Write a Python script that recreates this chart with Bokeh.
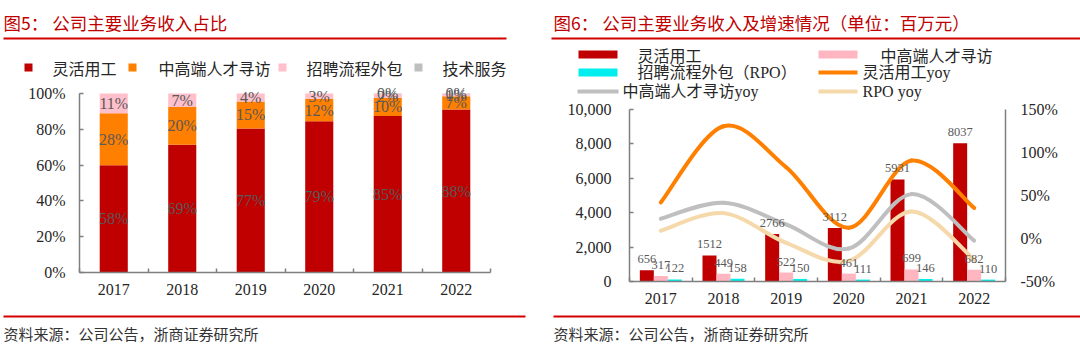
import numpy as np
from bokeh.plotting import figure
from bokeh.models import (ColumnDataSource, Range1d, LinearAxis, FixedTicker,
                          NumeralTickFormatter, PrintfTickFormatter)
from bokeh.layouts import row
from bokeh.embed import file_html
from bokeh.resources import INLINE
from bokeh.core.properties import value

# ---------------- data ----------------
years = ["2017", "2018", "2019", "2020", "2021", "2022"]

# Fig.5 revenue shares (%), bar heights
share_flex = [59.9, 71.4, 80.4, 84.5, 87.5, 91.0]
share_mid = [29.0, 21.1, 15.2, 12.5, 10.0, 7.5]
share_rpo = [11.1, 7.5, 4.4, 3.0, 2.2, 1.2]
share_tech = [0.0, 0.0, 0.0, 0.0, 0.3, 0.3]
# Fig.5 data labels as printed
label_flex = ["58%", "69%", "77%", "79%", "85%", "88%"]
label_mid = ["28%", "20%", "15%", "12%", "10%", "7%"]
label_rpo = ["11%", "7%", "4%", "3%", "2%", "1%"]
label_tech = ["", "", "", "", "0%", "0%"]

# Fig.6 revenue (million yuan)
rev_flex = [656, 1512, 2766, 3112, 5931, 8037]
rev_mid = [317, 449, 522, 461, 699, 682]
rev_rpo = [122, 158, 150, 111, 146, 110]
# Fig.6 growth yoy (%)
yoy_flex = [42.0, 130.5, 82.9, 12.5, 90.6, 35.5]
yoy_mid = [23.0, 41.6, 16.3, -11.7, 51.6, -2.4]
yoy_rpo = [9.0, 29.5, -5.1, -26.0, 31.5, -24.7]

pct_ticks = [0, 20, 40, 60, 80, 100]
rev_ticks = [0, 2000, 4000, 6000, 8000, 10000]
yoy_ticks = [-50, 0, 50, 100, 150]

# ---------------- style ----------------
SERIF = "Liberation Serif"
CJK = "Noto Sans CJK SC"
MIX = "Liberation Serif, Noto Sans CJK SC"
AXIS_C = "#7f7f7f"
TXT = "#262626"
LBL = "#595959"
TITLE_C = "#C00000"
RULE_C = "#D40000"
RED = "#C00000"
ORANGE = "#FF7F00"
PINK5 = "#FFC0CB"
GRAY = "#BFBFBF"
PINK6 = "#FFB6C1"
CYAN = "#00EEEE"
WHEAT = "#F5D9AA"

W, H = 540, 359
n = len(years)
xs = np.arange(n) + 0.5
bounds = [float(b) for b in range(n + 1)]
overrides = {float(x): y for x, y in zip(xs, years)}


def make_panel(off, ax0, ax6, ylo_px, yhi_px, ylo, yhi):
    """Figure whose frame is the whole canvas; axes sit at fixed locations."""
    ux = (ax6 - ax0) / float(n)
    uy = (ylo_px - yhi_px) / float(yhi - ylo)
    x0 = ax0 - off
    xr = Range1d(-x0 / ux, (W - x0) / ux)
    yr = Range1d(ylo - (H - ylo_px) / uy, ylo + ylo_px / uy)
    p = figure(width=W, height=H, x_range=xr, y_range=yr, output_backend="svg",
               toolbar_location=None, min_border=0, min_border_left=0, min_border_right=0,
               min_border_top=0, min_border_bottom=0)
    p.grid.visible = False
    p.outline_line_color = None
    p.background_fill_color = "white"
    p.border_fill_color = "white"

    def fx(X):
        return (X - ax0) / ux

    def fy(Y):
        return ylo + (ylo_px - Y) / uy
    return p, fx, fy


def style_xaxis(ax):
    ax.fixed_location = 0
    ax.bounds = (0, n)
    ax.ticker = FixedTicker(ticks=[float(x) for x in xs], minor_ticks=bounds)
    ax.major_label_overrides = overrides
    ax.major_tick_in = 0
    ax.major_tick_out = 0
    ax.minor_tick_in = 4
    ax.minor_tick_out = 0
    ax.minor_tick_line_color = AXIS_C
    ax.minor_tick_line_width = 1.5
    ax.axis_line_color = AXIS_C
    ax.axis_line_width = 1.5
    ax.major_label_text_font = SERIF
    ax.major_label_text_font_size = "16px"
    ax.major_label_text_color = TXT
    ax.major_label_standoff = 11


def style_yaxis(ax, tick_in, standoff):
    ax.major_tick_in = tick_in
    ax.major_tick_out = 0
    ax.major_tick_line_color = AXIS_C if tick_in else None
    ax.major_tick_line_width = 1.5
    ax.minor_tick_line_color = None
    ax.axis_line_color = AXIS_C
    ax.axis_line_width = 1.5
    ax.major_label_text_font = SERIF
    ax.major_label_text_font_size = "16px"
    ax.major_label_text_color = TXT
    ax.major_label_standoff = standoff


def deco_text(p, fx, fy, X, Y, txt, size, color, font):
    p.text(x=[fx(X)], y=[fy(Y)], text=[txt], text_align="left", text_baseline="middle",
           text_font=value(font), text_font_size=size, text_color=color)


def deco_box(p, fx, fy, X0, Y0, X1, Y1, color):
    p.quad(left=[fx(X0)], right=[fx(X1)], top=[fy(Y0)], bottom=[fy(Y1)],
           fill_color=color, line_color=None)


# ---------------- Fig.5 ----------------
p1, fx1, fy1 = make_panel(0, 79, 490, 272, 93, 0, 100)

src5 = ColumnDataSource(dict(x=xs, flex=share_flex, mid=share_mid, rpo=share_rpo, tech=share_tech))
p1.vbar_stack(["flex", "mid", "rpo", "tech"], x="x", width=0.41,
              fill_color=[RED, ORANGE, PINK5, GRAY], line_color=None, source=src5)

stack = np.array([share_flex, share_mid, share_rpo, share_tech])
mids = np.cumsum(stack, axis=0) - stack / 2.0
for mid_vals, labs in zip(mids, [label_flex, label_mid, label_rpo, label_tech]):
    p1.text(x=xs, y=mid_vals, text=labs, text_align="center", text_baseline="middle",
            text_font=value(SERIF), text_font_size="16px", text_color=LBL)

style_xaxis(p1.xaxis[0])
ya1 = p1.yaxis[0]
ya1.fixed_location = 0
ya1.bounds = (0, 100)
ya1.ticker = FixedTicker(ticks=pct_ticks)
ya1.formatter = PrintfTickFormatter(format="%d%%")
style_yaxis(ya1, 4, 14)

deco_text(p1, fx1, fy1, 3, 22, "图5： 公司主要业务收入占比", "17.5px", TITLE_C, CJK)
deco_box(p1, fx1, fy1, 3, 37, 506, 39, RULE_C)
leg5 = [(24, RED, 52, "灵活用工"), (128, ORANGE, 158, "中高端人才寻访"),
        (278, PINK5, 306, "招聘流程外包"), (414, GRAY, 442, "技术服务")]
for sqx, col, tx, name in leg5:
    deco_box(p1, fx1, fy1, sqx, 63, sqx + 8, 71, col)
    deco_text(p1, fx1, fy1, tx, 67, name, "16px", TXT, CJK)
deco_box(p1, fx1, fy1, 3, 315, 525, 317, RULE_C)
deco_text(p1, fx1, fy1, 3, 333, "资料来源：公司公告，浙商证券研究所", "15px", "#333333", CJK)

# ---------------- Fig.6 ----------------
p2, fx2, fy2 = make_panel(540, 629, 1005, 281, 109, 0, 10000)
uy_yoy = (281 - 109) / 200.0
p2.extra_y_ranges = {"yoy": Range1d(-50 - (H - 281) / uy_yoy, -50 + 281 / uy_yoy)}

bw = 0.2234
for off, vals, col in [(-bw, rev_flex, RED), (0.0, rev_mid, PINK6), (bw, rev_rpo, CYAN)]:
    p2.vbar(x=xs + off, top=vals, width=bw, fill_color=col, line_color=None)


def bezier_parts(vals):
    P = np.column_stack([xs, np.asarray(vals, dtype=float)])
    m = len(P)
    ext = np.vstack([P[0], P, P[-1]])
    c0 = P[:-1] + (ext[2:m + 1] - ext[0:m - 1]) / 6.0
    c1 = P[1:] - (ext[3:m + 2] - ext[1:m]) / 6.0
    return dict(x0=P[:-1, 0], y0=P[:-1, 1], x1=P[1:, 0], y1=P[1:, 1],
                cx0=c0[:, 0], cy0=c0[:, 1], cx1=c1[:, 0], cy1=c1[:, 1])


for vals, col in [(yoy_rpo, WHEAT), (yoy_mid, GRAY), (yoy_flex, ORANGE)]:
    p2.bezier(source=ColumnDataSource(bezier_parts(vals)), x0="x0", y0="y0", x1="x1", y1="y1",
              cx0="cx0", cy0="cy0", cx1="cx1", cy1="cy1",
              line_color=col, line_width=4, line_cap="round", y_range_name="yoy")

for off, vals in [(-bw, rev_flex), (0.0, rev_mid), (bw, rev_rpo)]:
    p2.text(x=xs + off, y=vals, text=[str(v) for v in vals], text_align="center",
            text_baseline="bottom", y_offset=-7,
            text_font=value(SERIF), text_font_size="12.5px", text_color=LBL)

style_xaxis(p2.xaxis[0])
ya2 = p2.yaxis[0]
ya2.fixed_location = 0
ya2.bounds = (0, 10000)
ya2.ticker = FixedTicker(ticks=rev_ticks)
ya2.formatter = NumeralTickFormatter(format="0,0")
style_yaxis(ya2, 4, 18)

yr = LinearAxis(y_range_name="yoy", fixed_location=n, bounds=(-50, 150))
yr.ticker = FixedTicker(ticks=yoy_ticks)
yr.formatter = PrintfTickFormatter(format="%d%%")
style_yaxis(yr, 0, 15)
p2.add_layout(yr, "right")

deco_text(p2, fx2, fy2, 553, 22, "图6： 公司主要业务收入及增速情况（单位：百万元）", "17.5px", TITLE_C, CJK)
deco_box(p2, fx2, fy2, 551, 37, 1080, 39, RULE_C)
deco_box(p2, fx2, fy2, 578, 50, 617, 58, RED)
deco_box(p2, fx2, fy2, 818, 50, 857, 58, PINK6)
deco_box(p2, fx2, fy2, 578, 68, 617, 76, CYAN)
deco_box(p2, fx2, fy2, 818, 70, 857, 74, ORANGE)
deco_box(p2, fx2, fy2, 577, 89, 618, 93, GRAY)
deco_box(p2, fx2, fy2, 818, 89, 857, 93, WHEAT)
deco_text(p2, fx2, fy2, 637, 54, "灵活用工", "16px", TXT, CJK)
deco_text(p2, fx2, fy2, 880, 54, "中高端人才寻访", "16px", TXT, CJK)
deco_text(p2, fx2, fy2, 637, 72, "招聘流程外包（RPO）", "16px", TXT, MIX)
deco_text(p2, fx2, fy2, 862, 72, "灵活用工yoy", "16px", TXT, MIX)
deco_text(p2, fx2, fy2, 622, 91, "中高端人才寻访yoy", "16px", TXT, MIX)
deco_text(p2, fx2, fy2, 862, 91, "RPO yoy", "16px", TXT, MIX)
deco_box(p2, fx2, fy2, 553, 315, 1080, 317, RULE_C)
deco_text(p2, fx2, fy2, 553, 333, "资料来源：公司公告，浙商证券研究所", "15px", "#333333", CJK)

layout = row(p1, p2)
open("out.html", "w").write(file_html(layout, INLINE))
